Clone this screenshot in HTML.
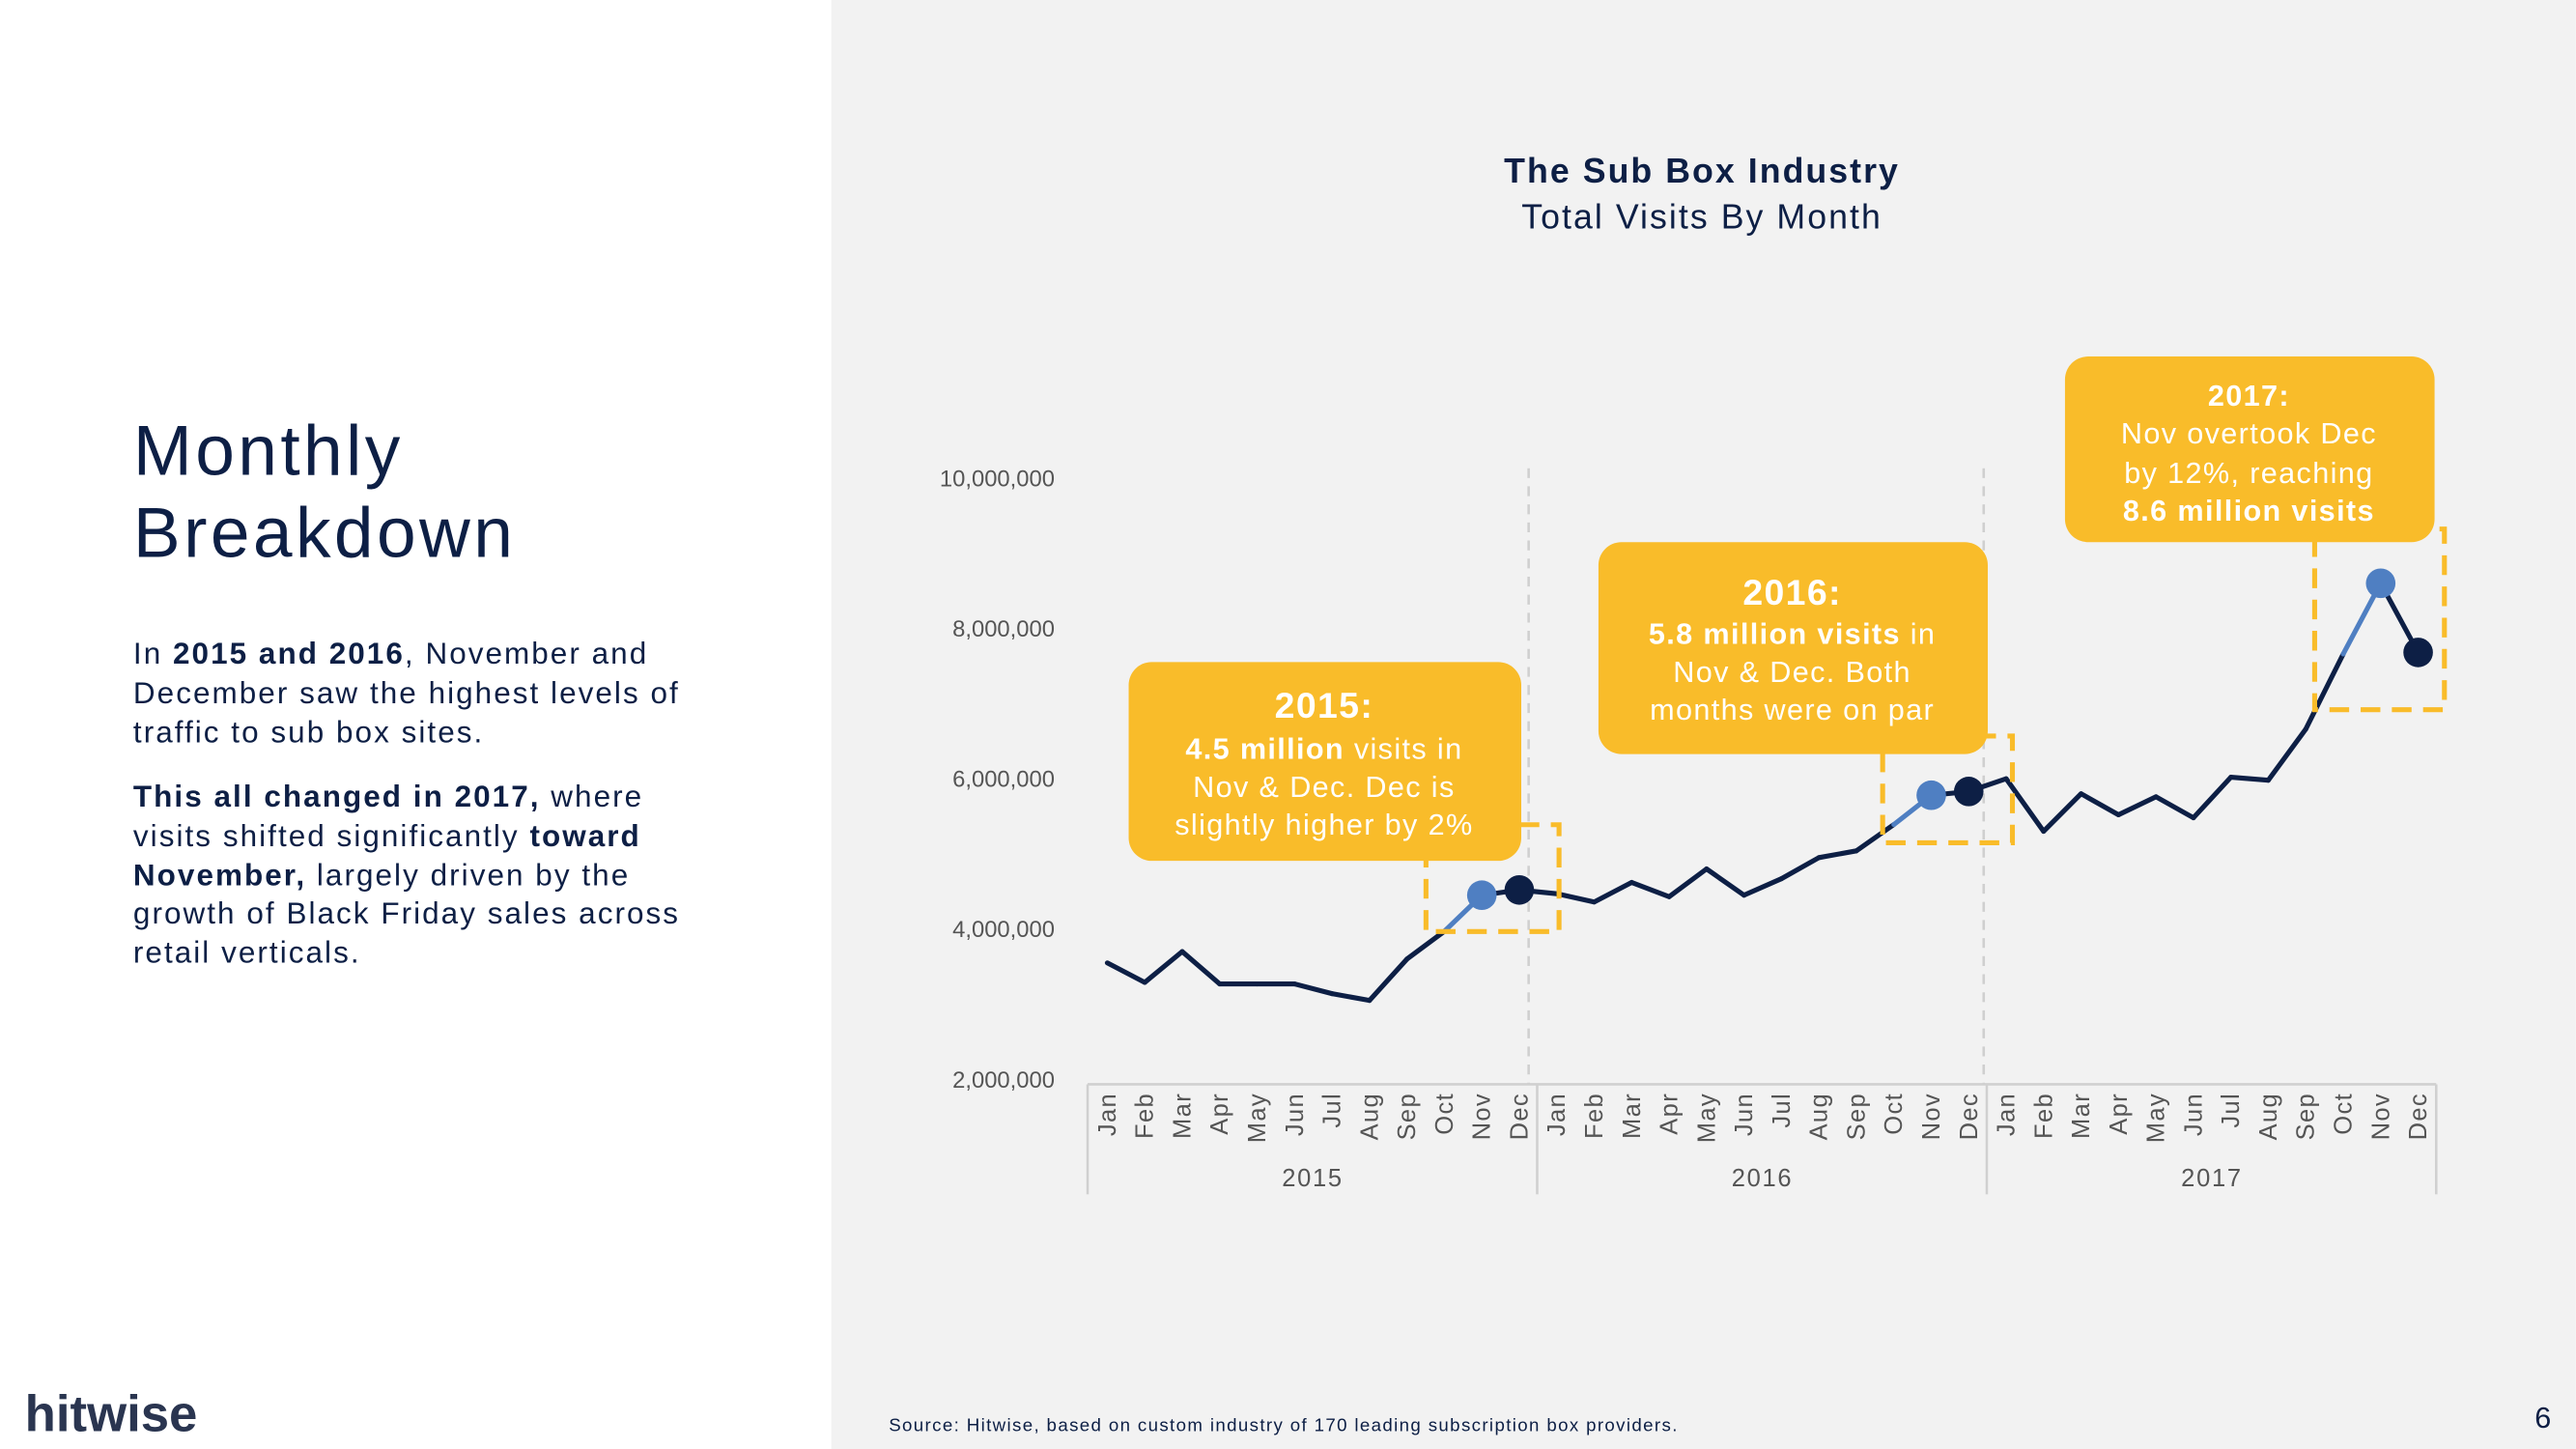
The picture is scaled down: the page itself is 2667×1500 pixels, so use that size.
<!DOCTYPE html>
<html><head><meta charset="utf-8"><style>
html,body{margin:0;padding:0;width:2667px;height:1500px;overflow:hidden;background:#fff}
svg{display:block;font-family:"Liberation Sans",sans-serif}
</style></head><body>
<svg id="chart" width="2667" height="1500" viewBox="0 0 1568 882" xmlns="http://www.w3.org/2000/svg">
<rect x="0" y="0" width="506" height="882" fill="#ffffff"/>
<rect x="506" y="0" width="1062" height="882" fill="#f2f2f2"/>

<text x="81" y="289" font-size="43" fill="#0d1f45" letter-spacing="2">Monthly</text>
<text x="81" y="339" font-size="43" fill="#0d1f45" letter-spacing="2">Breakdown</text>
<g font-size="18.5" fill="#0d1f45" letter-spacing="1.2">
<text x="81" y="404">In <tspan font-weight="bold">2015 and 2016</tspan>, November and</text>
<text x="81" y="428">December saw the highest levels of</text>
<text x="81" y="452">traffic to sub box sites.</text>
<text x="81" y="491"><tspan font-weight="bold">This all changed in 2017,</tspan> where</text>
<text x="81" y="515">visits shifted significantly <tspan font-weight="bold">toward</tspan></text>
<text x="81" y="539"><tspan font-weight="bold">November,</tspan> largely driven by the</text>
<text x="81" y="562">growth of Black Friday sales across</text>
<text x="81" y="586">retail verticals.</text>
</g>
<text x="15" y="871" font-size="31" font-weight="bold" fill="#2a3550" letter-spacing="0">hitwise</text>
<text x="541" y="871" font-size="11" fill="#0d1f45" letter-spacing="0.8">Source: Hitwise, based on custom industry of 170 leading subscription box providers.</text>
<text x="1543" y="869" font-size="18" fill="#0d1f45">6</text>

<text x="1036" y="111" font-size="21" font-weight="bold" fill="#0d1f45" text-anchor="middle" letter-spacing="1.2">The Sub Box Industry</text>
<text x="1036" y="139" font-size="21" fill="#0d1f45" text-anchor="middle" letter-spacing="1.2">Total Visits By Month</text>

<g id="yaxis"></g>
<g id="xaxis"></g>
<g id="dividers"></g>
<g id="series"></g>

<g>
<rect x="868" y="502" width="81" height="65" fill="none" stroke="#f9bc2a" stroke-width="3" stroke-dasharray="12,7"/>
<rect x="687" y="403" width="239" height="121" rx="14" fill="#f9bc2a"/>
<g fill="#fff" text-anchor="middle" font-size="18" letter-spacing="0.8">
<text x="806" y="437" font-size="22" font-weight="bold">2015:</text>
<text x="806" y="462"><tspan font-weight="bold">4.5 million</tspan> visits in</text>
<text x="806" y="485">Nov &amp; Dec. Dec is</text>
<text x="806" y="508">slightly higher by 2%</text>
</g></g>
<g>
<rect x="1146" y="448" width="79" height="65" fill="none" stroke="#f9bc2a" stroke-width="3" stroke-dasharray="12,7"/>
<rect x="973" y="330" width="237" height="129" rx="14" fill="#f9bc2a"/>
<g fill="#fff" text-anchor="middle" font-size="18" letter-spacing="0.8">
<text x="1091" y="368" font-size="22" font-weight="bold">2016:</text>
<text x="1091" y="392"><tspan font-weight="bold">5.8 million visits</tspan> in</text>
<text x="1091" y="415">Nov &amp; Dec. Both</text>
<text x="1091" y="438">months were on par</text>
</g></g>
<g>
<rect x="1409" y="322" width="79" height="110" fill="none" stroke="#f9bc2a" stroke-width="3" stroke-dasharray="12,7"/>
<rect x="1257" y="217" width="225" height="113" rx="14" fill="#f9bc2a"/>
<g fill="#fff" text-anchor="middle" font-size="18" letter-spacing="0.8">
<text x="1369" y="247" font-weight="bold">2017:</text>
<text x="1369" y="270">Nov overtook Dec</text>
<text x="1369" y="294">by 12%, reaching</text>
<text x="1369" y="317" font-weight="bold">8.6 million visits</text>
</g></g>
</svg>
<script>
const months = ["Jan","Feb","Mar","Apr","May","Jun","Jul","Aug","Sep","Oct","Nov","Dec"];
const years = ["2015","2016","2017"];
const visits = [3.55,3.29,3.7,3.27,3.27,3.27,3.14,3.05,3.6,3.97,4.45,4.52,
 4.47,4.36,4.62,4.43,4.8,4.45,4.67,4.95,5.04,5.39,5.78,5.83,
 6.0,5.3,5.8,5.52,5.76,5.48,6.02,5.98,6.66,7.66,8.6,7.68];
const yTicks = [2000000,4000000,6000000,8000000,10000000];
const NS = "http://www.w3.org/2000/svg";
function y(v){ return 657 - (v - 2) / 8 * 366; }
function x(i){ return 674 + i * (1472 - 674) / 35; }
function mk(tag, attrs, parent){ const e=document.createElementNS(NS,tag); for(const k in attrs) e.setAttribute(k,attrs[k]); parent.appendChild(e); return e; }
const ya=document.getElementById('yaxis'), xa=document.getElementById('xaxis'), dv=document.getElementById('dividers'), se=document.getElementById('series');
yTicks.forEach(t=>{
  const e=mk('text',{x:642,y:y(t/1e6)+5,'font-size':14,fill:'#555','text-anchor':'end'},ya);
  
  
  e.textContent=t.toLocaleString('en-US');
});
const ax=mk('line',{x1:662,x2:1483,y1:660,y2:660,stroke:'#d0d0d0','stroke-width':1.5},xa);


years.forEach((yr,k)=>{
  const l=mk('line',{x1:662+k*273.7,x2:662+k*273.7,y1:660,y2:727,stroke:'#d0d0d0','stroke-width':1.5},xa);
  
  
  const t=mk('text',{x:662+k*273.7+137,y:722,'font-size':15,fill:'#555','text-anchor':'middle','letter-spacing':1},xa);
  
  
  t.textContent=yr;
  months.forEach((m,j)=>{
    const i=k*12+j, cx=x(i)+5;
    const mt=mk('text',{x:cx,y:665,'font-size':15,fill:'#555','text-anchor':'end','letter-spacing':0.8,transform:'rotate(-90 '+cx+' 665)'},xa);
    
    
    mt.textContent=m;
  });
});
const l3=mk('line',{x1:1483,x2:1483,y1:660,y2:727,stroke:'#d0d0d0','stroke-width':1.5},xa);


[11.25,23.4].forEach(p=>{
  const d=mk('line',{x1:x(p),x2:x(p),y1:285,y2:660,stroke:'#cfcfcf','stroke-width':1.5,'stroke-dasharray':'6,5'},dv);
  
  
});
for(let i=0;i<visits.length-1;i++){
  const light=(i%12)===9;
  const s=mk('line',{x1:x(i),y1:y(visits[i]),x2:x(i+1),y2:y(visits[i+1]),stroke:light?'#4f7fc2':'#0d1f45','stroke-width':3,'stroke-linecap':'round'},se);
  
  
}
visits.forEach((v,i)=>{
  if(i%12===10||i%12===11){
    const c=mk('circle',{cx:x(i),cy:y(v),r:9,fill:(i%12===10)?'#4f7fc2':'#0d1f45'},se);
    
    
  }
});
</script>
</body></html>
